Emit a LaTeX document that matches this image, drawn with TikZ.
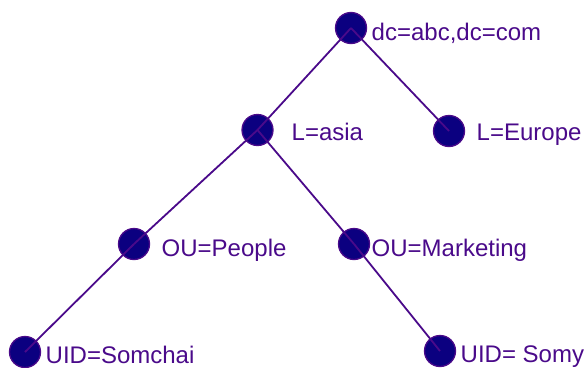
\documentclass[tikz,border=0pt]{standalone}
\usepackage{fontspec}
\setmainfont{Liberation Sans}
\begin{document}
\definecolor{dotfill}{HTML}{0B0080}
\definecolor{ink}{HTML}{4A0A8A}
\begin{tikzpicture}[x=1pt,y=-1pt,
  dot/.style={circle,fill=dotfill,draw=ink,line width=1.3pt,minimum size=31pt,inner sep=0pt},
  label/.style={anchor=base west,inner sep=0pt,text=ink,font=\fontsize{24}{28}\selectfont},
  link/.style={draw=ink,line width=1.8pt}]
\useasboundingbox (0,0) rectangle (586,367);
% directory tree nodes
\node[dot] (root) at (351,28) {};
\node[dot] (asia) at (257.5,130) {};
\node[dot] (europe) at (449,131) {};
\node[dot] (people) at (134,244) {};
\node[dot] (mkt) at (354,244) {};
\node[dot] (somchai) at (25,352) {};
\node[dot] (somy) at (440,351) {};
% tree edges, drawn over the dots
\draw[link] (root.center) -- (asia.center);
\draw[link] (root.center) -- (europe.center);
\draw[link] (asia.center) -- (people.center);
\draw[link] (asia.center) -- (mkt.center);
\draw[link] (people.center) -- (somchai.center);
\draw[link] (mkt.center) -- (somy.center);
% entry names
\node[label] (troot) at (371.5,40) {dc=abc,dc=com};
\node[label] (tasia) at (291.5,140) {L=asia};
\node[label] (teurope) at (476.5,140) {L=Europe};
\node[label] (tpeople) at (161.5,256) {OU=People};
\node[label] (tmkt) at (371.5,256) {OU=Marketing};
\node[label] (tsomchai) at (45.5,363) {UID=Somchai};
\node[label] (tsomy) at (460.5,362) {UID= Somy};
\end{tikzpicture}
\end{document}
